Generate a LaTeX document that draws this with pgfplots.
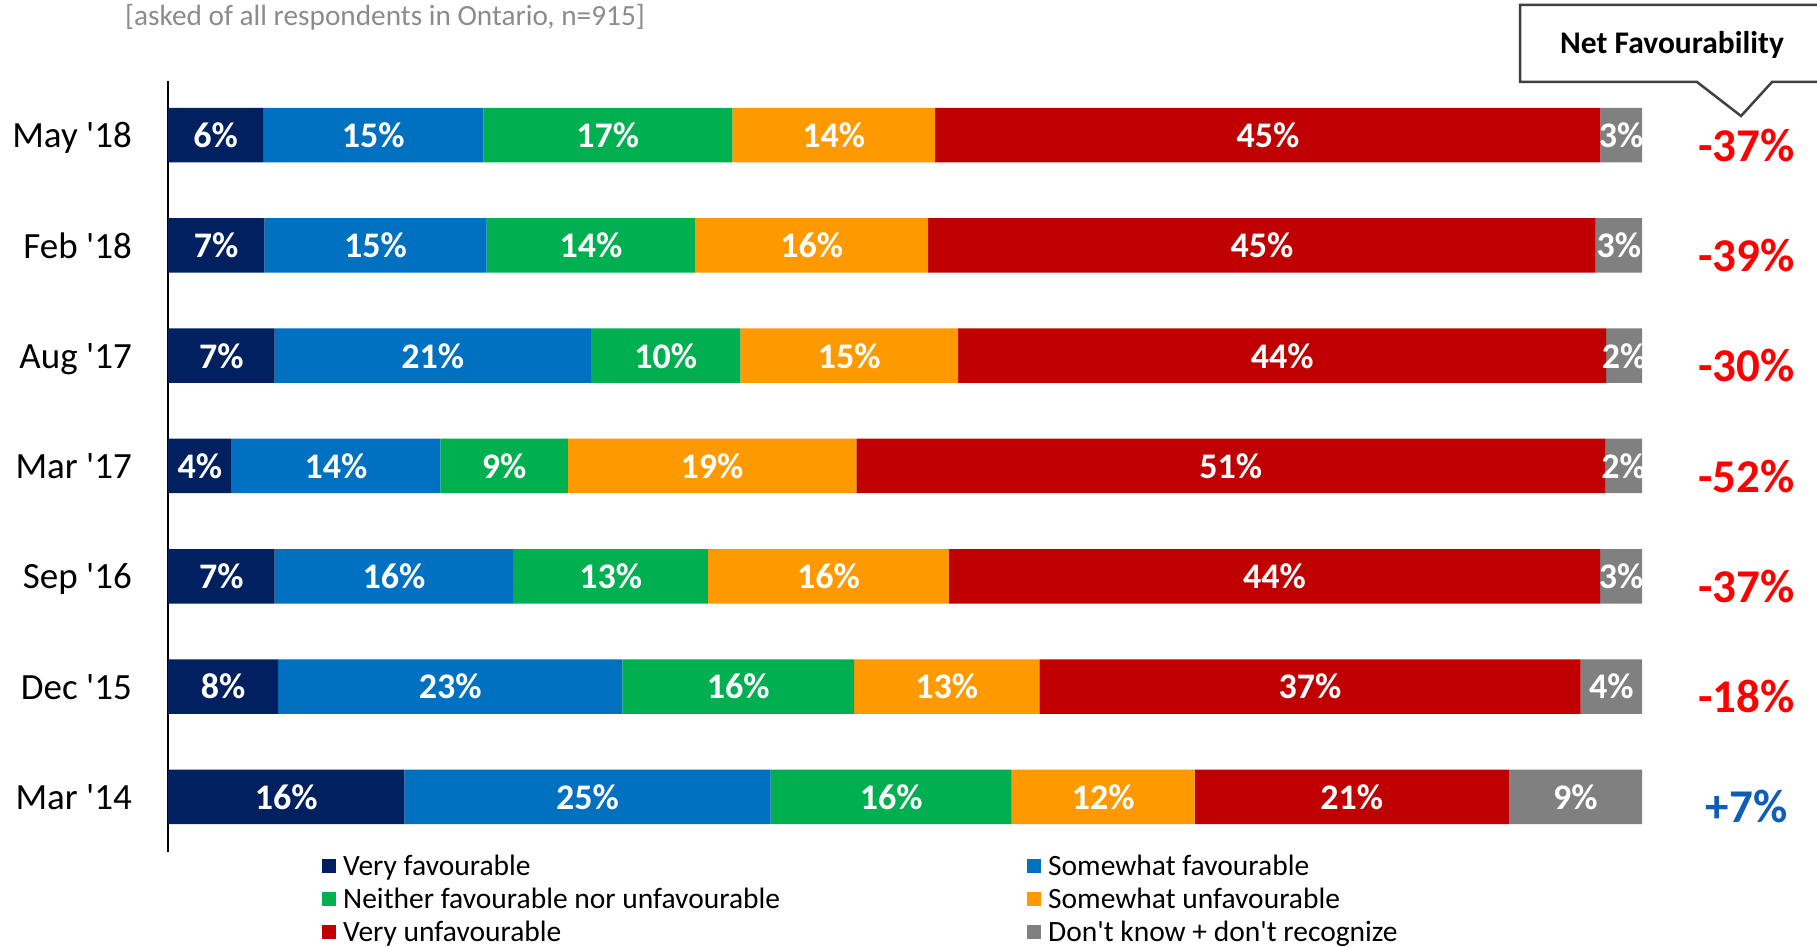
\documentclass[border=0pt]{standalone}
\usepackage{pgfplots}
\usepackage{pgfplotstable}
\pgfplotsset{compat=1.18}
\usepackage{fontspec}
\setmainfont{Carlito}[Ligatures=TeXOff]
\definecolor{vf}{HTML}{002060}
\definecolor{sf}{HTML}{0070C0}
\definecolor{nf}{HTML}{00B050}
\definecolor{su}{HTML}{FF9900}
\definecolor{vu}{HTML}{C00000}
\definecolor{dk}{HTML}{808080}
\definecolor{netred}{HTML}{FF0000}
\definecolor{netblue}{HTML}{0F5DB4}
\definecolor{subgray}{HTML}{8C8C8C}
% y: 0 = Mar '14 ... 6 = May '18 ; columns = segment lengths (share of bar)
\pgfplotstableread{
y  vf    sf    nf    su    vu    dk
0  16.04 24.84 16.35 12.42 21.31 9.04
1  7.47  23.35 15.72 12.58 36.71 4.17
2  7.23  16.19 13.21 16.35 44.18 2.84
3  4.32  14.15 8.65  19.58 50.79 2.51
4  7.23  21.46 10.14 14.78 43.95 2.44
5  6.53  15.09 14.15 15.80 45.28 3.15
6  6.45  14.94 16.90 13.76 45.13 2.82
}\bars
% label centres (middle of each segment) and printed values
\pgfplotstableread{
y c lab
6 3.23 6
6 13.92 15
6 29.84 17
6 45.17 14
6 74.62 45
6 98.59 3
5 3.27 7
5 14.08 15
5 28.70 14
5 43.67 16
5 74.21 45
5 98.43 3
4 3.62 7
4 17.96 21
4 33.76 10
4 46.22 15
4 75.59 44
4 98.78 2
3 2.16 4
3 11.40 14
3 22.80 9
3 36.91 19
3 72.10 51
3 98.75 2
2 3.62 7
2 15.33 16
2 30.03 13
2 44.81 16
2 75.07 44
2 98.58 3
1 3.74 8
1 19.15 23
1 38.68 16
1 52.83 13
1 77.48 37
1 97.92 4
0 8.02 16
0 28.46 25
0 49.06 16
0 63.44 12
0 80.31 21
0 95.48 9
}\labs
% net favourability
\pgfplotstableread{
y c lab
5.91 107.1 -37
4.91 107.1 -39
3.91 107.1 -30
2.91 107.1 -52
1.91 107.1 -37
0.91 107.1 -18
}\netneg
\pgfplotstableread{
y c lab
-0.09 107.1 +7
}\netpos
\pgfplotsset{base/.style={at={(168pt,94pt)}, anchor=south west,
  scale only axis, width=1474pt, height=771pt,
  xmin=0, xmax=100, ymin=-0.5, ymax=6.49, clip=false}}
\begin{document}
\begin{tikzpicture}
\begin{axis}[base,
  xbar stacked, bar width=54.5pt,
  axis x line=none, axis y line*=left,
  y axis line style={-, black, line width=1.5pt},
  ytick={0,...,6},
  yticklabels={Mar '14, Dec '15, Sep '16, Mar '17, Aug '17, Feb '18, May '18},
  major tick length=0pt,
  yticklabel style={font=\fontsize{37}{37}\selectfont, text depth=0pt, inner sep=0pt, xshift=-36pt},
  legend columns=2,
  legend style={at={(0.1045,-0.0015)}, anchor=north west, draw=none, fill=none, inner sep=0pt,
    font=\fontsize{29.5}{29.5}\selectfont, nodes={inner sep=2pt, text depth=0pt}, row sep=8.5pt,
    /tikz/every odd column/.append style={column sep=5pt},
    /tikz/every even column/.append style={column sep=245pt}},
  legend cell align=left,
  legend image code/.code={\fill[#1] (0pt,-7pt) rectangle (14pt,7pt);},
]
\addplot[fill=vf, draw=none] table[x=vf, y=y] {\bars};
\addplot[fill=sf, draw=none] table[x=sf, y=y] {\bars};
\addplot[fill=nf, draw=none] table[x=nf, y=y] {\bars};
\addplot[fill=su, draw=none] table[x=su, y=y] {\bars};
\addplot[fill=vu, draw=none] table[x=vu, y=y] {\bars};
\addplot[fill=dk, draw=none] table[x=dk, y=y] {\bars};
\legend{Very favourable, Somewhat favourable, Neither favourable nor unfavourable, Somewhat unfavourable, Very unfavourable, Don't know + don't recognize}
\end{axis}
\begin{axis}[base, hide axis]
\addplot[draw=none, mark=none, nodes near coords={\pgfplotspointmeta\%}, point meta=explicit symbolic,
  every node near coord/.append style={anchor=center, font=\bfseries\fontsize{36}{36}\selectfont, text=white, text depth=0pt, inner sep=0pt}]
  table[x=c, y=y, meta=lab] {\labs};
\addplot[draw=none, mark=none, nodes near coords={\pgfplotspointmeta\%}, point meta=explicit symbolic,
  every node near coord/.append style={anchor=center, font=\bfseries\fontsize{47}{47}\selectfont, text=netred, text depth=0pt, inner sep=0pt}]
  table[x=c, y=y, meta=lab] {\netneg};
\addplot[draw=none, mark=none, nodes near coords={\pgfplotspointmeta\%}, point meta=explicit symbolic,
  every node near coord/.append style={anchor=center, font=\bfseries\fontsize{47}{47}\selectfont, text=netblue, text depth=0pt, inner sep=0pt}]
  table[x=c, y=y, meta=lab] {\netpos};
\end{axis}
\draw[draw=black!75, line width=2.5pt, fill=white] (1830pt,941pt) -- (1520pt,941pt) -- (1520pt,864pt) -- (1697pt,864pt) -- (1741pt,830pt) -- (1772pt,864pt) -- (1830pt,864pt);
\node[font=\bfseries\fontsize{31.5}{31.5}\selectfont] at (1672pt,901pt) {Net Favourability};
\node[anchor=west, text=subgray, font=\fontsize{29.3}{29.3}\selectfont, inner sep=0pt] at (125pt,929pt) {[asked of all respondents in Ontario, n=915]};
\pgfresetboundingbox
\useasboundingbox (0,0) rectangle (1817pt,946pt);
\end{tikzpicture}
\end{document}
